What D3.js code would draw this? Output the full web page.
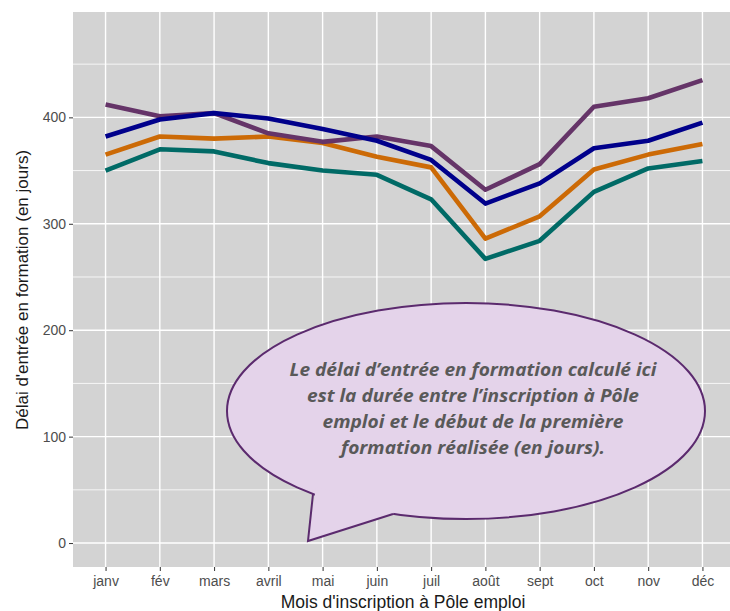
<!DOCTYPE html>
<html><head><meta charset="utf-8">
<script src="https://cdn.jsdelivr.net/npm/d3@7"></script>
<style>body{margin:0;background:#fff}svg{display:block}</style>
</head><body><svg id="c" width="730" height="611"></svg>
<script>
const months = ["janv","fév","mars","avril","mai","juin","juil","août","sept","oct","nov","déc"];
const seriesPurple = [412,401,404,385,377,382,373,332,356,410,418,435];
const seriesBlue   = [382,398,404,399,389,378,360,319,338,371,378,395];
const seriesOrange = [365,382,380,382,376,363,353,286,307,351,365,375];
const seriesTeal   = [350,370,368,357,350,346,323,267,284,330,352,359];
const seriesColors = ["#653468","#00008b","#cc6a06","#006a66"];
const yTicks = [0,100,200,300,400];
const yMinor = [50,150,250,350,450];
const calloutLines = ["Le délai d’entrée en formation calculé ici","est la durée entre l’inscription à Pôle","emploi et le début de la première","formation réalisée (en jours)."];
const calloutWidths = [367,332,301,264];
const xTitle = "Mois d'inscription à Pôle emploi";
const yTitle = "Délai d'entrée en formation (en jours)";

const svg = d3.select("#c");
const L = 73, R = 735, T = 12, B = 567;
const x = d3.scalePoint().domain(months).range([L, R]).padding(0.6);
const y = d3.scaleLinear().domain([-22.5, 499]).range([B, T]);

svg.append("defs").append("clipPath").attr("id","pc").append("rect")
  .attr("x",L).attr("y",T).attr("width",R-L).attr("height",B-T);
svg.append("rect").attr("x",L).attr("y",T).attr("width",R-L).attr("height",B-T).attr("fill","#d3d3d3");
const g = svg.append("g").attr("clip-path","url(#pc)");
g.selectAll(".mn").data(yMinor).join("line").attr("x1",L).attr("x2",R)
  .attr("y1",d=>y(d)).attr("y2",d=>y(d)).attr("stroke","#fff").attr("stroke-width",0.8);
g.selectAll(".mj").data(yTicks).join("line").attr("x1",L).attr("x2",R)
  .attr("y1",d=>y(d)).attr("y2",d=>y(d)).attr("stroke","#fff").attr("stroke-width",1.4);
g.selectAll(".vx").data(months).join("line").attr("y1",T).attr("y2",B)
  .attr("x1",d=>x(d)).attr("x2",d=>x(d)).attr("stroke","#fff").attr("stroke-width",1.4);

const all = [seriesPurple, seriesBlue, seriesOrange, seriesTeal];
const line = d3.line().x((d,i)=>x(months[i])).y(d=>y(d));
[3,2,0,1].forEach(k=>{
  g.append("path").datum(all[k]).attr("d",line).attr("fill","none")
   .attr("stroke",seriesColors[k]).attr("stroke-width",4.6).attr("stroke-linejoin","round");
});

const ff = "Liberation Sans, Arial, sans-serif";
const ya = svg.append("g").attr("transform",`translate(${L},0)`)
  .call(d3.axisLeft(y).tickValues(yTicks).tickSize(4).tickPadding(3));
ya.select(".domain").remove();
ya.selectAll("line").attr("stroke","#333").attr("stroke-width",1);
ya.selectAll("text").attr("fill","#4d4d4d").style("font-family",ff).style("font-size","14px");
const xa = svg.append("g").attr("transform",`translate(0,${B})`)
  .call(d3.axisBottom(x).tickSize(4).tickPadding(5));
xa.select(".domain").remove();
xa.selectAll("line").attr("stroke","#333").attr("stroke-width",1);
xa.selectAll("text").attr("fill","#4d4d4d").style("font-family",ff).style("font-size","14px");

svg.append("text").attr("x",403).attr("y",608).attr("text-anchor","middle")
  .style("font-family",ff).style("font-size","17.5px").attr("fill","#1a1a1a").text(xTitle);
svg.append("text").attr("transform","translate(28,290) rotate(-90)").attr("text-anchor","middle")
  .style("font-family",ff).style("font-size","17px").attr("fill","#1a1a1a").text(yTitle);

const co = svg.append("g");
const cx = 466, cy = 411, rx = 239, ry = 108;
const fillC = "#e4d3ea", strokeC = "#5b2a6e";
co.append("ellipse").attr("cx",cx).attr("cy",cy).attr("rx",rx).attr("ry",ry)
  .attr("fill",fillC).attr("stroke",strokeC).attr("stroke-width",2);
co.append("polygon").attr("points","316,487 308,541 393,514 396,507").attr("fill",fillC);
co.append("polyline").attr("points","313,494 308,541 393,514").attr("fill","none")
  .attr("stroke",strokeC).attr("stroke-width",2).attr("stroke-linejoin","miter");
co.selectAll(".cl").data(calloutLines).join("text")
  .attr("x",473).attr("y",(d,i)=>376+i*26).attr("text-anchor","middle")
  .attr("textLength",(d,i)=>calloutWidths[i]).attr("lengthAdjust","spacingAndGlyphs")
  .style("font-family","Open Sans, sans-serif").style("font-weight","bold").style("font-style","italic")
  .style("font-size","18px").attr("fill","#595959").text(d=>d);
</script></body></html>
